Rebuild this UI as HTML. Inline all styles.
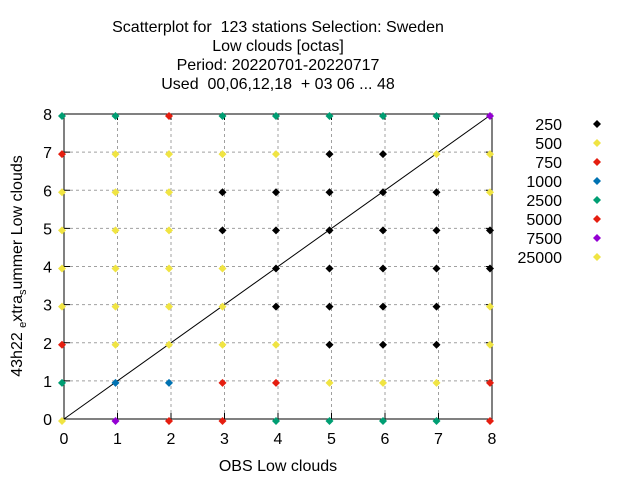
<!DOCTYPE html>
<html><head><meta charset="utf-8"><style>
body{margin:0;background:#fff}
svg text{font-family:"Liberation Sans",sans-serif;font-size:16px;fill:#000;white-space:pre}
</style></head><body>
<svg width="640" height="480" xmlns="http://www.w3.org/2000/svg" id="chart">
<g text-anchor="middle">
<text x="278" y="32" xml:space="preserve">Scatterplot for  123 stations Selection: Sweden</text>
<text x="278" y="51">Low clouds [octas]</text>
<text x="278" y="70">Period: 20220701-20220717</text>
<text x="278" y="89" xml:space="preserve">Used  00,06,12,18  + 03 06 ... 48</text>
</g>
<g id="grid"></g>
<g id="axes"></g>
<g id="marks"></g>
<g id="legend"></g>
<text x="278" y="471" text-anchor="middle">OBS Low clouds</text>
<text transform="translate(22,266) rotate(-90)" text-anchor="middle">43h22 <tspan font-size="11" dy="4">e</tspan><tspan dy="-4">xtra</tspan><tspan font-size="11" dy="4">s</tspan><tspan dy="-4">ummer Low clouds</tspan></text>
</svg>
<script>
const seriesNames=["250","500","750","1000","2500","5000","7500","25000"];
const seriesColors=["#000000","#f0e442","#e51e10","#0072b2","#009e73","#e51e10","#9400d3","#f0e442"];
const xTicks=[0,1,2,3,4,5,6,7,8];
const yTicks=[0,1,2,3,4,5,6,7,8];
// series index per grid cell: rows y=8..0, columns x=0..8
const cellRows=[
 [4,4,2,4,4,4,4,4,6],
 [2,1,1,1,1,0,0,1,1],
 [1,1,1,0,0,0,0,0,1],
 [1,1,1,0,0,0,0,0,0],
 [1,1,1,1,0,0,0,0,0],
 [1,1,1,1,0,0,0,0,1],
 [2,1,1,1,1,0,0,0,1],
 [4,3,3,2,2,1,1,1,2],
 [1,6,2,2,4,4,4,4,2]
];
const X0=64,X1=492,Y0=419,Y1=114;
const sx=v=>X0+(X1-X0)*v/8, sy=v=>Y0-(Y0-Y1)*v/8;
const NS="http://www.w3.org/2000/svg";
function mk(t,a,p){const e=document.createElementNS(NS,t);for(const k in a)e.setAttribute(k,a[k]);p.appendChild(e);return e;}
const grid=document.getElementById('grid'),axes=document.getElementById('axes'),marks=document.getElementById('marks'),legend=document.getElementById('legend');
xTicks.forEach(v=>{
 const l=mk('line',{x1:sx(v),x2:sx(v),y1:Y0,y2:Y1,stroke:'#a0a0a0','stroke-dasharray':'3,3'},grid);
 
 
 const t=mk('text',{x:sx(v),y:Y0+25,'text-anchor':'middle'},axes);t.textContent=v;
 
 
 mk('line',{x1:sx(v),x2:sx(v),y1:Y0,y2:Y0-6,stroke:'#000'},axes);
 mk('line',{x1:sx(v),x2:sx(v),y1:Y1,y2:Y1+6,stroke:'#000'},axes);
});
yTicks.forEach(v=>{
 const l=mk('line',{x1:X0,x2:X1,y1:sy(v),y2:sy(v),stroke:'#a0a0a0','stroke-dasharray':'3,3'},grid);
 
 
 const t=mk('text',{x:52,y:sy(v)+6,'text-anchor':'end'},axes);t.textContent=v;
 
 
 mk('line',{x1:X0,x2:X0+6,y1:sy(v),y2:sy(v),stroke:'#000'},axes);
 mk('line',{x1:X1,x2:X1-6,y1:sy(v),y2:sy(v),stroke:'#000'},axes);
});
const fr=mk('rect',{x:X0,y:Y1,width:X1-X0,height:Y0-Y1,fill:'none',stroke:'#000'},axes);


const diag=mk('line',{x1:sx(0),y1:sy(0),x2:sx(8),y2:sy(8),stroke:'#000'},marks);


function diamond(cx,cy,c,p){return mk('polygon',{points:`${cx},${cy-4} ${cx+4},${cy} ${cx},${cy+4} ${cx-4},${cy}`,fill:c},p);}
cellRows.forEach((row,ri)=>{
 const yv=8-ri;
 row.forEach((s,xv)=>{
  const d=diamond(sx(xv)-2,sy(yv)+2,seriesColors[s],marks);
  
  
 });
});
seriesNames.forEach((n,i)=>{
 const y=124+i*19;
 const t=mk('text',{x:562,y:y+6,'text-anchor':'end'},legend);t.textContent=n;
 
 
 const d=diamond(597,y,seriesColors[i],legend);
 
 
});
</script>
</body></html>
